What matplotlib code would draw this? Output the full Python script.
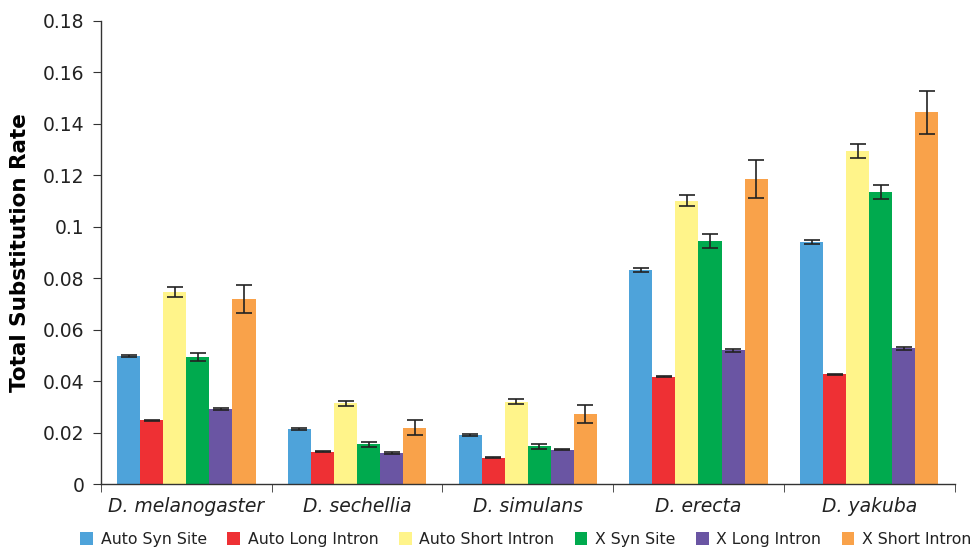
import numpy as np
import matplotlib.pyplot as plt
from matplotlib.patches import Patch

species = ['D. melanogaster', 'D. sechellia', 'D. simulans', 'D. erecta', 'D. yakuba']
series = ['Auto Syn Site', 'Auto Long Intron', 'Auto Short Intron',
          'X Syn Site', 'X Long Intron', 'X Short Intron']
colors = ['#4EA3DA', '#EE3034', '#FFF48A', '#00AA4E', '#6A55A3', '#F9A24A']

auto_syn = [0.0498, 0.0215, 0.0192, 0.0832, 0.0942]
auto_long = [0.0249, 0.0126, 0.0102, 0.0418, 0.0427]
auto_short = [0.0747, 0.0315, 0.0320, 0.1102, 0.1295]
x_syn = [0.0494, 0.0155, 0.0147, 0.0945, 0.1136]
x_long = [0.0292, 0.0121, 0.0133, 0.0520, 0.0528]
x_short = [0.0719, 0.0220, 0.0272, 0.1185, 0.1445]

auto_syn_err = [0.0005, 0.0004, 0.0004, 0.0007, 0.0008]
auto_long_err = [0.0002, 0.0002, 0.0002, 0.0002, 0.0002]
auto_short_err = [0.0018, 0.0010, 0.0010, 0.0020, 0.0026]
x_syn_err = [0.0017, 0.0010, 0.0010, 0.0028, 0.0028]
x_long_err = [0.0005, 0.0003, 0.0002, 0.0005, 0.0005]
x_short_err = [0.0054, 0.0028, 0.0035, 0.0075, 0.0084]

values = [auto_syn, auto_long, auto_short, x_syn, x_long, x_short]
errors = [auto_syn_err, auto_long_err, auto_short_err, x_syn_err, x_long_err, x_short_err]

fig = plt.figure(figsize=(9.76, 5.49), dpi=100)
ax = fig.add_axes([0.1035, 0.118, 0.8745, 0.844])

n = len(series)
bw = 0.81 / n
x = np.arange(len(species))
for i in range(n):
    pos = x - 0.405 + bw * (i + 0.5)
    ax.bar(pos, values[i], width=bw, color=colors[i], linewidth=0)
    ax.errorbar(pos, values[i], yerr=errors[i], fmt='none', ecolor='#222222',
                elinewidth=1.2, capsize=6, capthick=1.2)

ax.set_xlim(-0.5, len(species) - 0.5)
ax.set_ylim(0, 0.18)
ax.set_yticks(np.arange(0, 0.181, 0.02))
ax.set_yticklabels(['0', '0.02', '0.04', '0.06', '0.08', '0.1',
                    '0.12', '0.14', '0.16', '0.18'], fontsize=13.5, color='#222222')
ax.set_xticks(x)
ax.set_xticklabels(species, fontsize=13.5, style='italic', color='#222222')
ax.tick_params(axis='x', length=0, pad=9)
ax.set_xticks(np.arange(-0.5, len(species), 1.0), minor=True)
ax.tick_params(axis='x', which='minor', length=6, direction='out', color='#333333')
ax.tick_params(axis='y', length=6, direction='out', color='#333333', pad=6)
ax.set_ylabel('Total Substitution Rate', fontsize=15.5, fontweight='bold', labelpad=9)

for s in ['top', 'right']:
    ax.spines[s].set_visible(False)
for s in ['left', 'bottom']:
    ax.spines[s].set_color('#333333')
    ax.spines[s].set_linewidth(1.0)

handles = [Patch(facecolor=c, edgecolor='none') for c in colors]
fig.legend(handles, series, loc='lower center', bbox_to_anchor=(0.539, -0.022), ncol=6,
           frameon=False, fontsize=11.3, handlelength=0.8, handleheight=0.8,
           handletextpad=0.5, columnspacing=1.3, labelcolor='#222222')

fig.savefig('out.png', dpi=100)
